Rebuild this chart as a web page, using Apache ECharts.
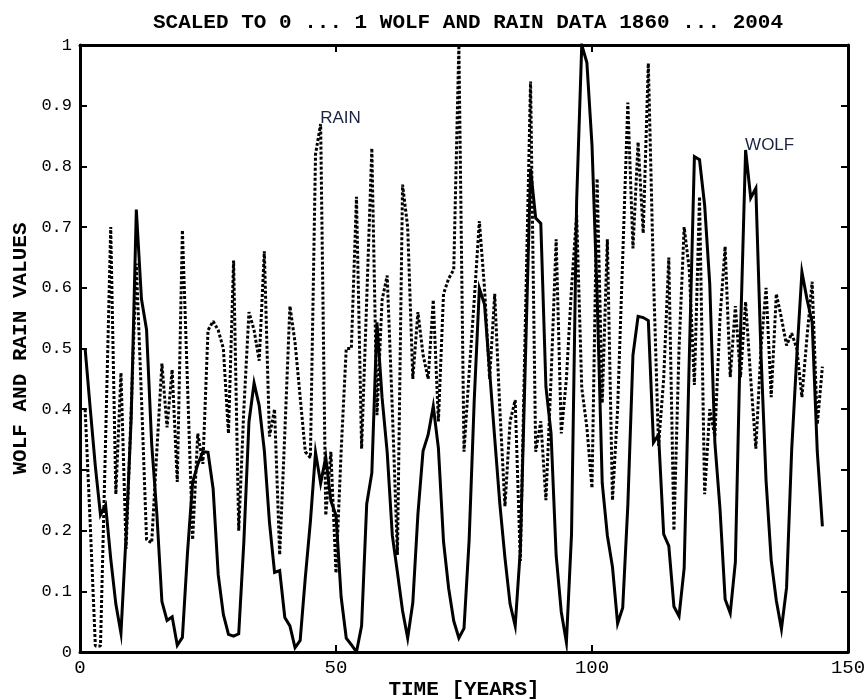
<!DOCTYPE html>
<html>
<head>
<meta charset="utf-8">
<script src="https://cdn.jsdelivr.net/npm/echarts@6/dist/echarts.min.js"></script>
<style>
  html, body { margin: 0; padding: 0; background: #fff; }
  #chart { width: 864px; height: 700px; }
</style>
</head>
<body>
<div id="chart"></div>
<script>
// one value per year, 1860 (year 1) to 2004 (year 145), both series scaled to 0..1
const wolf = [
  0.500, 0.401, 0.306, 0.226, 0.242, 0.154, 0.079, 0.031, 0.192, 0.385,
  0.729, 0.582, 0.531, 0.343, 0.229, 0.083, 0.052, 0.058, 0.011, 0.024,
  0.164, 0.280, 0.309, 0.330, 0.329, 0.269, 0.127, 0.062, 0.029, 0.026,
  0.030, 0.181, 0.379, 0.443, 0.406, 0.332, 0.214, 0.131, 0.134, 0.057,
  0.043, 0.007, 0.019, 0.122, 0.215, 0.329, 0.278, 0.321, 0.249, 0.225,
  0.091, 0.023, 0.012, 0.000, 0.043, 0.244, 0.295, 0.543, 0.419, 0.329,
  0.192, 0.131, 0.068, 0.023, 0.081, 0.227, 0.331, 0.358, 0.405, 0.336,
  0.182, 0.105, 0.051, 0.023, 0.039, 0.184, 0.415, 0.599, 0.573, 0.463,
  0.352, 0.244, 0.155, 0.079, 0.043, 0.168, 0.483, 0.796, 0.715, 0.706,
  0.437, 0.360, 0.159, 0.066, 0.016, 0.194, 0.743, 1.000, 0.971, 0.835,
  0.587, 0.278, 0.192, 0.140, 0.047, 0.073, 0.242, 0.489, 0.553, 0.551,
  0.546, 0.345, 0.358, 0.194, 0.175, 0.075, 0.059, 0.138, 0.483, 0.816,
  0.811, 0.736, 0.606, 0.345, 0.236, 0.087, 0.064, 0.148, 0.523, 0.827,
  0.748, 0.764, 0.492, 0.282, 0.151, 0.085, 0.038, 0.106, 0.333, 0.487,
  0.626, 0.581, 0.543, 0.330, 0.207
];

const rain = [
  0.40, 0.21, 0.01, 0.01, 0.35, 0.70, 0.26, 0.46, 0.17, 0.40,
  0.64, 0.42, 0.185, 0.18, 0.33, 0.475, 0.37, 0.465, 0.28, 0.695,
  0.44, 0.185, 0.36, 0.31, 0.53, 0.545, 0.53, 0.50, 0.36, 0.645,
  0.20, 0.40, 0.56, 0.53, 0.48, 0.66, 0.355, 0.40, 0.16, 0.36,
  0.57, 0.51, 0.42, 0.33, 0.32, 0.82, 0.87, 0.225, 0.33, 0.13,
  0.33, 0.50, 0.50, 0.75, 0.335, 0.58, 0.83, 0.39, 0.58, 0.62,
  0.40, 0.16, 0.77, 0.70, 0.45, 0.56, 0.49, 0.45, 0.58, 0.38,
  0.59, 0.615, 0.63, 1.00, 0.33, 0.46, 0.58, 0.71, 0.60, 0.45,
  0.59, 0.40, 0.24, 0.38, 0.415, 0.15, 0.55, 0.94, 0.33, 0.38,
  0.25, 0.45, 0.68, 0.36, 0.45, 0.60, 0.72, 0.435, 0.37, 0.27,
  0.78, 0.41, 0.68, 0.25, 0.40, 0.65, 0.905, 0.665, 0.84, 0.69,
  0.97, 0.62, 0.34, 0.45, 0.65, 0.20, 0.50, 0.70, 0.63, 0.44,
  0.75, 0.26, 0.40, 0.355, 0.55, 0.668, 0.453, 0.57, 0.453, 0.577,
  0.45, 0.335, 0.50, 0.60, 0.42, 0.59, 0.55, 0.505, 0.525, 0.50,
  0.42, 0.52, 0.61, 0.375, 0.47
];

const xTicks = [0, 50, 100, 150];
const annotations = [
  { name: 'RAIN', coord: [46.9, 0.88] },
  { name: 'WOLF', coord: [129.9, 0.835] }
];

const monoFont = '"Liberation Mono", "DejaVu Sans Mono", monospace';

const chart = echarts.init(document.getElementById('chart'), null, { renderer: 'canvas' });

// box round the plot, ticks pointing in on every side
const frameAxis = {
  axisLine: { show: true, onZero: false, lineStyle: { color: '#000', width: 3 } },
  axisTick: { show: true, inside: true, length: 7, lineStyle: { color: '#000', width: 2 } },
  splitLine: { show: false }
};

chart.setOption({
  animation: false,
  backgroundColor: '#fff',
  title: {
    text: 'SCALED TO 0 ... 1 WOLF AND RAIN DATA 1860 ... 2004',
    left: 463, top: 7, textAlign: 'center',
    textStyle: { fontFamily: monoFont, fontWeight: 'bold', fontSize: 21, color: '#000' }
  },
  grid: { left: 80, right: 16, top: 45, bottom: 48, outerBoundsMode: 'none', containLabel: false },
  xAxis: [
    Object.assign({
      type: 'value', min: 0, max: 150, interval: 50, position: 'bottom',
      name: 'TIME [YEARS]', nameLocation: 'middle', nameGap: 27, nameMoveOverlap: false,
      nameTextStyle: { fontFamily: monoFont, fontWeight: 'bold', fontSize: 21, color: '#000' },
      axisLabel: { fontFamily: monoFont, fontSize: 19, color: '#000', margin: 6,
        customValues: xTicks }
    }, frameAxis),
    Object.assign({
      type: 'value', min: 0, max: 150, interval: 50, position: 'top',
      axisLabel: { show: false }
    }, frameAxis)
  ],
  yAxis: [
    Object.assign({
      type: 'value', min: 0, max: 1, interval: 0.1, position: 'left',
      name: 'WOLF AND RAIN VALUES', nameLocation: 'middle', nameGap: 49, nameMoveOverlap: false,
      nameTextStyle: { fontFamily: monoFont, fontWeight: 'bold', fontSize: 21, color: '#000' },
      axisLabel: { fontFamily: monoFont, fontSize: 17, color: '#000', margin: 8 }
    }, frameAxis),
    Object.assign({
      type: 'value', min: 0, max: 1, interval: 0.1, position: 'right',
      axisLabel: { show: false }
    }, frameAxis)
  ],
  series: [
    {
      name: 'WOLF', type: 'line',
      data: wolf.map((v, i) => [i + 1, v]),
      showSymbol: false, symbol: 'none',
      lineStyle: { color: '#000', width: 3, join: 'miter' },
      z: 2
    },
    {
      name: 'RAIN', type: 'line',
      data: rain.map((v, i) => [i + 1, v]),
      showSymbol: false, symbol: 'none',
      lineStyle: { color: '#000', width: 3, type: [3, 2] },
      z: 3,
      markPoint: {
        symbol: 'circle', symbolSize: 0, silent: true,
        label: {
          show: true, position: 'right', distance: 0,
          formatter: '{b}',
          fontFamily: '"Liberation Sans", Arial, sans-serif', fontSize: 17, color: '#1c2340'
        },
        data: annotations
      }
    }
  ]
});
</script>
</body>
</html>
